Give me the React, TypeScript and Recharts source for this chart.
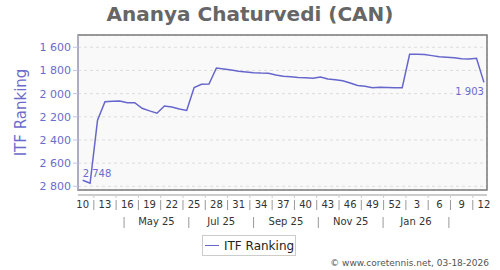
import { LineChart, Line, XAxis, YAxis, CartesianGrid, ReferenceArea, LabelList } from 'recharts'

const PLAYER = 'Ananya Chaturvedi (CAN)'
const SERIES_NAME = 'ITF Ranking'
const CREDIT = '© www.coretennis.net, 03-18-2026'

// one point per ISO week, week 10 of 2025 up to week 12 of 2026
const FIRST_DATE = '2025-03-08'
const weeks = [
  10, 11, 12, 13, 14, 15, 16, 17, 18, 19, 20, 21, 22, 23, 24, 25, 26, 27, 28, 29, 30, 31,
  32, 33, 34, 35, 36, 37, 38, 39, 40, 41, 42, 43, 44, 45, 46, 47, 48, 49, 50, 51, 52,
  1, 2, 3, 4, 5, 6, 7, 8, 9, 10, 11, 12,
]
const ranks = [
  2748, 2774, 2230, 2070, 2066, 2064, 2078, 2078, 2127, 2149, 2169, 2107, 2116, 2132, 2145,
  1948, 1920, 1917, 1779, 1787, 1796, 1807, 1814, 1820, 1823, 1824, 1839, 1850, 1855, 1861,
  1864, 1868, 1856, 1873, 1881, 1889, 1908, 1929, 1937, 1950, 1945, 1947, 1949, 1949, 1660,
  1660, 1662, 1672, 1681, 1686, 1691, 1699, 1701, 1695, 1903,
]

const yTicks = [1600, 1800, 2000, 2200, 2400, 2600, 2800]
const monthStarts = [
  '2025-04-01', '2025-05-01', '2025-06-01', '2025-07-01', '2025-08-01', '2025-09-01',
  '2025-10-01', '2025-11-01', '2025-12-01', '2026-01-01', '2026-02-01', '2026-03-01',
]
const monthSeparators = ['2025-04-16', '2025-06-16', '2025-08-16', '2025-10-16', '2025-12-16', '2026-02-16']
const monthLabels = ['May 25', 'Jul 25', 'Sep 25', 'Nov 25', 'Jan 26']

const LINE = '#6666cc'
const BLUE_TEXT = '#6b6bcc'
const X_DOMAIN = [-4.4, 380.9]
const Y_DOMAIN = [1494, 2832]

const dayOf = (s: string) => (Date.parse(s) - Date.parse(FIRST_DATE)) / 864e5
const fmt = (v: number) => String(v).replace(/\B(?=(\d{3})+(?!\d))/g, ' ')

const data = weeks.map((w, i) => ({ day: i * 7, week: w, rank: ranks[i] }))

// x ticks: week labels every 3 weeks, separators between them, plus the month row
const tickInfo = new Map<number, { kind: string; text: string }[]>()
const addTick = (v: number, kind: string, text = '') => {
  tickInfo.set(v, [...(tickInfo.get(v) ?? []), { kind, text }])
}
data.forEach((d, i) => {
  if (i % 3 !== 0) return
  addTick(d.day, 'week', String(d.week))
  if (i < data.length - 1) addTick(d.day + 10.5, 'weekSep')
})
const sepDays = monthSeparators.map(dayOf)
sepDays.forEach(d => addTick(d, 'monthSep'))
monthLabels.forEach((m, i) => addTick((sepDays[i] + sepDays[i + 1]) / 2, 'month', m))
const xTicks = [...tickInfo.keys()].sort((a, b) => a - b)

function XTick({ x, y, payload }: any) {
  const items = tickInfo.get(payload.value) ?? []
  return (
    <g>
      {items.map((t, k) => {
        if (t.kind === 'week')
          return <text key={k} x={x} y={y + 13} textAnchor="middle" fontSize={10} fill="#333">{t.text}</text>
        if (t.kind === 'weekSep')
          return (
            <g key={k}>
              <line x1={x} x2={x} y1={y} y2={y + 3} stroke="#ccc" />
              <line x1={x} x2={x} y1={y + 5} y2={y + 15} stroke="#999" />
            </g>
          )
        if (t.kind === 'monthSep')
          return <line key={k} x1={x} x2={x} y1={y + 22} y2={y + 33} stroke="#999" />
        return <text key={k} x={x} y={y + 30} textAnchor="middle" fontSize={10} fill="#333">{t.text}</text>
      })}
    </g>
  )
}

function EndLabel({ x, y, value, index }: any) {
  if (index === 0)
    return <text x={x} y={y - 3} fontSize={10} fill={BLUE_TEXT}>{fmt(value)}</text>
  if (index === data.length - 1)
    return <text x={x} y={y + 13} fontSize={10} fill={BLUE_TEXT} textAnchor="end">{fmt(value)}</text>
  return null
}

export default function App() {
  return (
    <div style={{ position: 'relative', width: 500, height: 270, fontFamily: 'DejaVu Sans', background: '#fff' }}>
      <style>{'body { margin: 0; }'}</style>
      <div style={{ position: 'absolute', top: 2, left: 0, width: 500, textAlign: 'center', fontSize: 20, lineHeight: '24px', fontWeight: 'bold', color: '#666' }}>
        {PLAYER}
      </div>
      <LineChart width={500} height={270} data={data} margin={{ top: 35, right: 13, bottom: 0, left: 0 }}>
        <XAxis xAxisId="grid" dataKey="day" type="number" domain={X_DOMAIN} ticks={monthStarts.map(dayOf)}
          tick={false} tickLine={false} axisLine={false} height={5} allowDataOverflow />
        <XAxis xAxisId="main" dataKey="day" type="number" domain={X_DOMAIN} ticks={xTicks} interval={0}
          tick={<XTick />} tickLine={false} tickSize={0} tickMargin={0} axisLine={{ stroke: '#999' }} height={75} allowDataOverflow />
        <YAxis yAxisId="pad" type="number" domain={Y_DOMAIN} reversed tick={false} tickLine={false} axisLine={false} width={5} allowDataOverflow />
        <YAxis yAxisId="main" type="number" domain={Y_DOMAIN} reversed ticks={yTicks} width={73} allowDataOverflow
          tick={{ fontSize: 11, fill: BLUE_TEXT }} tickFormatter={fmt} tickSize={5}
          tickLine={{ stroke: '#c4c4ec' }} axisLine={{ stroke: '#c4c4ec' }}
          label={{
            content: ({ viewBox }: any) => (
              <text x={21} y={viewBox.y + viewBox.height / 2} transform={`rotate(-90 21 ${viewBox.y + viewBox.height / 2})`}
                textAnchor="middle" dominantBaseline="central" fontSize={15} fill={BLUE_TEXT}>
                {SERIES_NAME}
              </text>
            ),
          }} />
        <CartesianGrid xAxisId="grid" yAxisId="main" fill="#f9f9f9" stroke="#ddd" strokeDasharray="3 3" />
        <ReferenceArea xAxisId="main" yAxisId="main" x1={X_DOMAIN[0]} x2={X_DOMAIN[1]} y1={Y_DOMAIN[0]} y2={Y_DOMAIN[1]}
          fill="none" stroke="#7a7a7a" strokeWidth={1.5} fillOpacity={0} ifOverflow="visible" />
        <Line xAxisId="main" yAxisId="main" dataKey="rank" name={SERIES_NAME} stroke={LINE} strokeWidth={1.5}
          dot={false} isAnimationActive={false}>
          <LabelList dataKey="rank" content={<EndLabel />} />
        </Line>
      </LineChart>
      <div style={{ position: 'absolute', left: 202, top: 235, width: 94, height: 21, boxSizing: 'border-box', border: '1px solid #ccc', background: '#fff', display: 'flex', alignItems: 'center' }}>
        <span style={{ display: 'inline-block', width: 14, height: 0, borderTop: `1.5px solid ${LINE}`, marginLeft: 2, marginRight: 5 }} />
        <span style={{ fontSize: 12, color: '#222' }}>{SERIES_NAME}</span>
      </div>
      <div style={{ position: 'absolute', right: 11, top: 257, fontSize: 9, lineHeight: '12px', color: '#555' }}>
        {CREDIT}
      </div>
    </div>
  )
}
